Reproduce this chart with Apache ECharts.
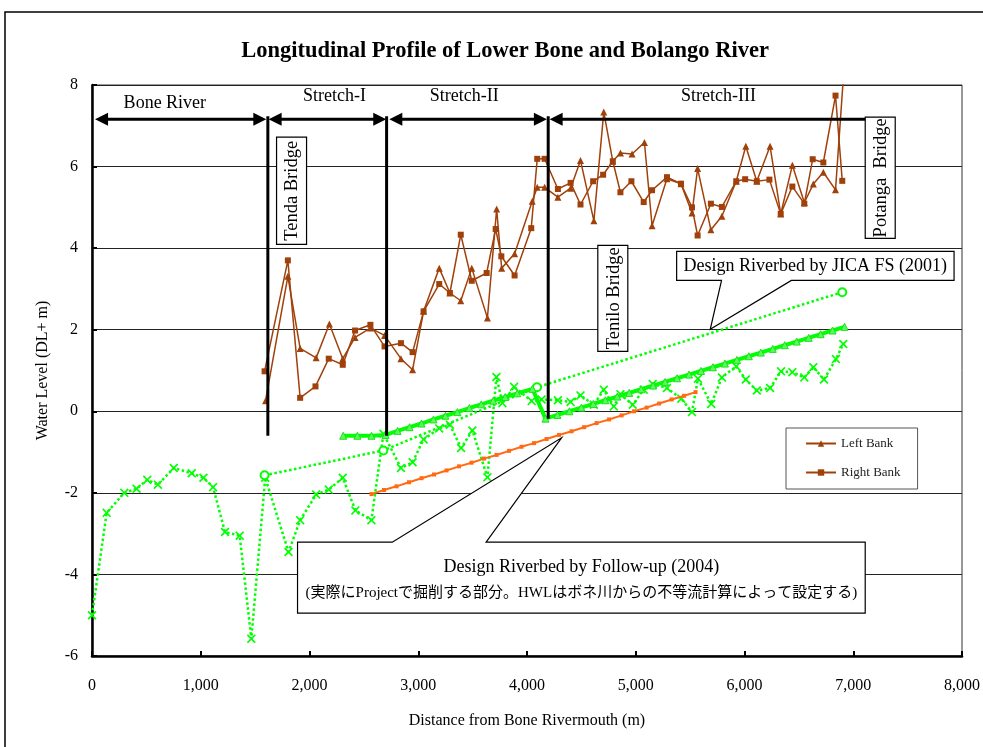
<!DOCTYPE html>
<html><head><meta charset="utf-8">
<script src="https://cdn.jsdelivr.net/npm/echarts@6/dist/echarts.min.js"></script>
<style>html,body{margin:0;padding:0;background:#fff}#c{width:983px;height:747px}</style>
</head><body><div id="c"></div>
<script>
const TITLE = 'Longitudinal Profile of Lower Bone and Bolango River';
const X_NAME = 'Distance from Bone Rivermouth (m)';
const Y_NAME = 'Water Level (DL+ m)';
const LEGEND_NAMES = ['Left Bank', 'Right Bank'];

const leftBank = [[1596,0.26],[1801,3.31],[1914,1.54],[2061,1.31],[2183,2.14],[2306,1.29],[2419,1.81],[2560,2.04],[2690,1.86],[2841,1.29],[2948,1.02],[3049,2.45],[3193,3.51],[3291,2.90],[3391,2.71],[3492,3.51],[3636,2.29],[3721,4.96],[3767,3.51],[3886,3.86],[4048,5.15],[4094,5.49],[4162,5.49],[4284,5.25],[4401,5.47],[4492,6.15],[4615,4.67],[4706,7.34],[4789,6.13],[4859,6.33],[4966,6.31],[5080,6.59],[5150,4.55],[5287,5.70],[5416,5.58],[5517,4.86],[5569,5.95],[5691,4.45],[5792,4.78],[5924,5.64],[6012,6.50],[6113,5.64],[6235,6.50],[6333,4.84],[6440,6.03],[6550,5.12],[6633,5.57],[6725,5.86],[6837,5.43],[6920,8.6]];

const rightBank = [[1587,0.98],[1801,3.70],[1914,0.33],[2055,0.61],[2177,1.29],[2306,1.14],[2419,1.98],[2560,2.12],[2690,1.59],[2841,1.67],[2948,1.45],[3049,2.45],[3193,3.12],[3291,2.90],[3391,4.33],[3492,3.20],[3629,3.39],[3712,4.47],[3764,3.80],[3886,3.33],[4039,4.49],[4094,6.19],[4162,6.19],[4284,5.45],[4401,5.60],[4492,5.07],[4608,5.64],[4700,5.80],[4789,6.13],[4859,5.37],[4960,5.64],[5073,5.13],[5150,5.42],[5287,5.74],[5416,5.58],[5517,5.00],[5569,4.31],[5691,5.09],[5792,5.01],[5924,5.64],[6006,5.69],[6113,5.64],[6229,5.68],[6333,4.84],[6440,5.51],[6550,5.09],[6627,6.18],[6725,6.10],[6837,7.74],[6899,5.65]];

const existingBed = [[0,-5.0],[135,-2.49],[297,-2.0],[410,-1.90],[508,-1.68],[606,-1.80],[752,-1.39],[917,-1.52],[1025,-1.63],[1113,-1.86],[1223,-2.96],[1358,-3.05],[1465,-5.58],[1593,-1.63],[1807,-3.45],[1914,-2.67],[2061,-2.04],[2177,-1.92],[2306,-1.63],[2422,-2.43],[2569,-2.67],[2680,-0.55],[2841,-1.39],[2948,-1.25],[3049,-0.69],[3193,-0.42],[3291,-0.33],[3394,-0.90],[3498,-0.47],[3636,-1.62],[3719,0.84],[3774,0.20],[3881,0.60],[4043,0.25],[4134,0.29],[4284,0.27],[4401,0.23],[4492,0.39],[4615,0.16],[4706,0.53],[4798,0.12],[4859,0.42],[4972,0.16],[5073,0.53],[5156,0.67],[5287,0.57],[5419,0.31],[5517,-0.02],[5572,0.80],[5694,0.18],[5792,0.83],[5924,1.10],[6012,0.78],[6113,0.51],[6235,0.57],[6336,0.98],[6440,0.96],[6550,0.83],[6633,1.08],[6731,0.78],[6841,1.28],[6908,1.65]];

const jicaDesign = [[1587,-1.57],[2679,-0.96],[4092,0.59],[6899,2.92]];

const followUpDesign = [[2570,-2.03],[2685,-1.93],[2800,-1.84],[2915,-1.74],[3030,-1.64],[3145,-1.55],[3260,-1.45],[3375,-1.35],[3490,-1.26],[3605,-1.16],[3720,-1.07],[3835,-0.97],[3950,-0.87],[4065,-0.78],[4180,-0.68],[4295,-0.58],[4410,-0.49],[4525,-0.39],[4640,-0.29],[4755,-0.20],[4870,-0.10],[4985,0.00],[5100,0.09],[5215,0.19],[5330,0.29],[5445,0.38],[5550,0.47]];

const planBed = [[2310,-0.6],[2440,-0.6],[2570,-0.6],[2700,-0.58],[2810,-0.48],[2920,-0.39],[3030,-0.30],[3140,-0.20],[3250,-0.11],[3360,-0.02],[3470,0.08],[3580,0.17],[3690,0.26],[3800,0.35],[3910,0.44],[4050,0.55],[4170,-0.18],[4280,-0.09],[4390,0.00],[4500,0.09],[4610,0.18],[4720,0.27],[4830,0.36],[4940,0.45],[5050,0.54],[5160,0.63],[5270,0.72],[5380,0.81],[5490,0.90],[5600,0.99],[5710,1.08],[5820,1.17],[5930,1.26],[6040,1.35],[6150,1.44],[6260,1.53],[6370,1.62],[6480,1.71],[6590,1.80],[6700,1.89],[6810,1.98],[6920,2.07]];

// annotation anchors (data coordinates)
const stretchArrows = [
  {label:'Bone River', from:28, to:1603, labelX:670, labelY:7.55, heads:[true,true]},
  {label:'Stretch-I', from:1624, to:2706, labelX:2229, labelY:7.72, heads:[true,true]},
  {label:'Stretch-II', from:2734, to:4183, labelX:3422, labelY:7.72, heads:[true,true]},
  {label:'Stretch-III', from:4208, to:7110, labelX:5761, labelY:7.72, heads:[true,false]}
];
const ARROW_Y = 7.16;
const dividers = [[1617,-0.6],[2709,-0.6],[4195,-0.18]];
const bridges = [
  {text:'Tenda Bridge', x:1835, top:6.72, bottom:4.09},
  {text:'Tenilo Bridge', x:4789, top:4.07, bottom:1.47},
  {text:'Potanga  Bridge', x:7248, top:7.21, bottom:4.24}
];

const SERIF = '"Liberation Serif", "Times New Roman", serif';
const BROWN = '#A0400A';
const LIME = '#00FF00';
const xSym = 'path://M0,1.3L1.3,0L5,3.7L8.7,0L10,1.3L6.3,5L10,8.7L8.7,10L5,6.3L1.3,10L0,8.7L3.7,5Z';

const chart = echarts.init(document.getElementById('c'), null, {renderer:'canvas'});

chart.setOption({
  animation:false,
  backgroundColor:'#fff',
  title:{text:TITLE, left:500, top:35, textAlign:'center',
    textStyle:{fontFamily:SERIF, fontSize:22.5, fontWeight:'bold', color:'#000'}},
  legend:{data:LEGEND_NAMES, orient:'vertical', left:786, top:428,
    padding:[9,17,10,19], itemGap:16, itemWidth:30, itemHeight:8,
    backgroundColor:'#fff', borderColor:'#555', borderWidth:1,
    textStyle:{fontFamily:SERIF, fontSize:13, color:'#222'}},
  grid:{left:92, right:20, top:85, bottom:91, show:true, borderColor:'#333', borderWidth:1},
  xAxis:{type:'value', min:0, max:8000, interval:1000,
    name:X_NAME, nameLocation:'middle', nameGap:57,
    nameTextStyle:{fontFamily:SERIF, fontSize:16, color:'#000'},
    axisLine:{onZero:false, lineStyle:{color:'#000', width:2.5}},
    axisTick:{inside:true, length:5, lineStyle:{color:'#000', width:2}},
    axisLabel:{margin:22, fontFamily:SERIF, fontSize:16, color:'#000',
      formatter:v=>v.toLocaleString('en-US')},
    splitLine:{show:false}},
  yAxis:{type:'value', min:-6, max:8, interval:2,
    name:Y_NAME, nameLocation:'middle', nameGap:41, nameRotate:90,
    nameTextStyle:{fontFamily:SERIF, fontSize:16, color:'#000'},
    axisLine:{onZero:false, lineStyle:{color:'#000', width:2.5}},
    axisTick:{inside:true, length:5, lineStyle:{color:'#000', width:2}},
    axisLabel:{margin:14, fontFamily:SERIF, fontSize:16, color:'#000'},
    splitLine:{show:true, lineStyle:{color:'#222', width:1}}},
  series:[
    {name:'Existing Riverbed', type:'line', data:existingBed, symbol:xSym, symbolSize:9,
      lineStyle:{color:LIME, width:2.5, type:'dotted'}, itemStyle:{color:LIME}, z:3},
    {name:'JICA FS (2001)', type:'line', data:jicaDesign, symbol:'emptyCircle', symbolSize:8,
      lineStyle:{color:LIME, width:2.5, type:'dotted'}, itemStyle:{color:LIME, borderWidth:1.5}, z:3},
    {name:'Follow-up (2004)', type:'line', data:followUpDesign, symbol:'rect', symbolSize:4,
      lineStyle:{color:'#FF6A13', width:2}, itemStyle:{color:'#FF6A13'}, z:4},
    {name:'Plan', type:'line', data:planBed, symbol:'triangle', symbolSize:7,
      lineStyle:{color:LIME, width:4}, itemStyle:{color:'#55FF55', borderColor:'#22DD22', borderWidth:1}, z:5},
    {name:'Left Bank', type:'line', data:leftBank, symbol:'triangle', symbolSize:7, clip:true,
      lineStyle:{color:BROWN, width:1.5}, itemStyle:{color:BROWN}, z:6},
    {name:'Right Bank', type:'line', data:rightBank, symbol:'rect', symbolSize:6, clip:true,
      lineStyle:{color:BROWN, width:1.5}, itemStyle:{color:BROWN}, z:6}
  ]
});

function P(x,y){return chart.convertToPixel({xAxisIndex:0,yAxisIndex:0},[x,y]);}
const g = [];
g.push({type:'rect', shape:{x:5,y:12,width:1100,height:900}, style:{fill:'none', stroke:'#000', lineWidth:1.5}, z:100});

// stretch arrows
stretchArrows.forEach(a=>{
  const p1 = P(a.from, ARROW_Y), p2 = P(a.to, ARROW_Y);
  g.push({type:'line', shape:{x1:p1[0]+(a.heads[0]?8:0), y1:p1[1], x2:p2[0]-(a.heads[1]?8:0), y2:p2[1]},
    style:{stroke:'#000', lineWidth:3}, z:100});
  if (a.heads[0]) g.push({type:'polygon', shape:{points:[[p1[0],p1[1]],[p1[0]+13,p1[1]-6.5],[p1[0]+13,p1[1]+6.5]]}, style:{fill:'#000'}, z:100});
  if (a.heads[1]) g.push({type:'polygon', shape:{points:[[p2[0],p2[1]],[p2[0]-13,p2[1]-6.5],[p2[0]-13,p2[1]+6.5]]}, style:{fill:'#000'}, z:100});
  const pl = P(a.labelX, a.labelY);
  g.push({type:'text', x:pl[0], y:pl[1], style:{text:a.label, font:'18px '+SERIF, fill:'#000',
    textAlign:'center', textVerticalAlign:'middle', align:'center', verticalAlign:'middle'}, z:100});
});
// dividers
dividers.forEach(d=>{
  const p1 = P(d[0], ARROW_Y), p2 = P(d[0], d[1]);
  g.push({type:'line', shape:{x1:p1[0], y1:p1[1]-3, x2:p2[0], y2:p2[1]}, style:{stroke:'#000', lineWidth:3}, z:100});
});
// bridge boxes
bridges.forEach(b=>{
  const pt = P(b.x, b.top), pb = P(b.x, b.bottom);
  g.push({type:'rect', shape:{x:pt[0]-15, y:pt[1], width:30, height:pb[1]-pt[1]},
    style:{fill:'#fff', stroke:'#000', lineWidth:1.2}, z:101});
  g.push({type:'text', x:pt[0]+1, y:(pt[1]+pb[1])/2, rotation:Math.PI/2,
    style:{text:b.text, font:'18.5px '+SERIF, fill:'#000', textAlign:'center', textVerticalAlign:'middle', align:'center', verticalAlign:'middle'}, z:102});
});
// JICA callout
(function(){
  const tl = P(5376, 3.92), br = P(7927, 3.21), b1 = P(5789, 3.21), b2 = P(6431, 3.21), tip = P(5685, 2.01);
  g.push({type:'polygon', shape:{points:[[tl[0],tl[1]],[br[0],tl[1]],[br[0],br[1]],[b2[0],br[1]],[tip[0],tip[1]],[b1[0],br[1]],[tl[0],br[1]]]},
    style:{fill:'#fff', stroke:'#000', lineWidth:1.2}, z:101});
  g.push({type:'text', x:(tl[0]+br[0])/2, y:(tl[1]+br[1])/2, style:{text:'Design Riverbed by JICA FS (2001)', font:'18px '+SERIF, fill:'#000',
    textAlign:'center', textVerticalAlign:'middle', align:'center', verticalAlign:'middle'}, z:102});
})();
// Follow-up callout
(function(){
  const tl = P(1890, -3.21), br = P(7110, -4.95), b1 = P(2761, -3.21), b2 = P(3624, -3.21), tip = P(4318, -0.65);
  g.push({type:'polygon', shape:{points:[[tl[0],tl[1]],[b1[0],tl[1]],[tip[0],tip[1]],[b2[0],tl[1]],[br[0],tl[1]],[br[0],br[1]],[tl[0],br[1]]]},
    style:{fill:'#fff', stroke:'#000', lineWidth:1.2}, z:101});
  const cx = (tl[0]+br[0])/2;
  const l1 = P(4495, -3.82), l2 = P(4495, -4.46);
  g.push({type:'text', x:cx, y:l1[1], style:{text:'Design Riverbed by Follow-up (2004)', font:'18px '+SERIF, fill:'#000',
    textAlign:'center', textVerticalAlign:'middle', align:'center', verticalAlign:'middle'}, z:102});
  g.push({type:'text', x:cx, y:l2[1], style:{text:'(実際にProjectで掘削する部分。HWLはボネ川からの不等流計算によって設定する)',
    font:'15px "Liberation Serif", "Noto Sans CJK JP", serif', fill:'#000',
    textAlign:'center', textVerticalAlign:'middle', align:'center', verticalAlign:'middle'}, z:102});
})();
chart.setOption({graphic:g});
</script></body></html>
